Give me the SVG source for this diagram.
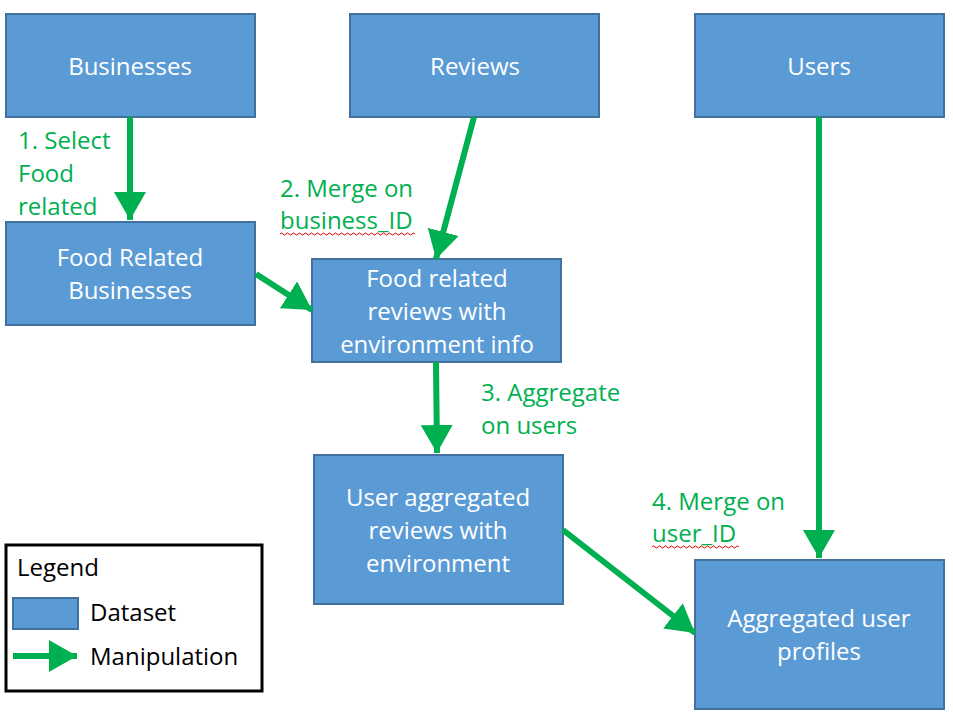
<svg xmlns="http://www.w3.org/2000/svg" width="953" height="719" viewBox="0 0 953 719">
<style>
.ds{fill:#5B9BD5;stroke:#41719C;stroke-width:2}
.dt{fill:#fff;font-family:"Open Sans","Liberation Sans",sans-serif;font-size:24px;text-anchor:middle}
.gl{fill:#00B050;font-family:"Open Sans","Liberation Sans",sans-serif;font-size:24px}
.bl{fill:#000;font-family:"Open Sans","Liberation Sans",sans-serif;font-size:24px}
.ar{stroke:#00B050;stroke-width:6;fill:none;marker-end:url(#ah)}
.sq{stroke:#E00000;stroke-width:1;fill:none}
</style>
<defs>
<marker id="ah" markerUnits="userSpaceOnUse" markerWidth="30" markerHeight="32" refX="28" refY="16" orient="auto" viewBox="0 0 30 32">
<path d="M0,0 L28,16 L0,32 Z" fill="#00B050"/>
</marker>
</defs>
<rect width="953" height="719" fill="#fff"/>
<g id="businesses"><rect class="ds" x="6" y="14" width="249" height="103"/><text class="dt" x="130" y="75">Businesses</text></g>
<g id="reviews"><rect class="ds" x="350" y="14" width="249" height="103"/><text class="dt" x="475" y="75">Reviews</text></g>
<g id="users"><rect class="ds" x="695" y="14" width="249" height="103"/><text class="dt" x="819" y="75">Users</text></g>
<g id="food-businesses"><rect class="ds" x="6" y="222" width="249" height="103"/><text class="dt" x="130" y="266">Food Related</text><text class="dt" x="130" y="299">Businesses</text></g>
<g id="food-reviews"><rect class="ds" x="312" y="259" width="249" height="103"/><text class="dt" x="437" y="287">Food related</text><text class="dt" x="437" y="320">reviews with</text><text class="dt" x="437" y="353">environment info</text></g>
<g id="user-aggregated"><rect class="ds" x="314" y="455" width="249" height="149"/><text class="dt" x="438" y="506">User aggregated</text><text class="dt" x="438" y="539">reviews with</text><text class="dt" x="438" y="572">environment</text></g>
<g id="aggregated-profiles"><rect class="ds" x="695" y="560" width="249" height="149"/><text class="dt" x="819" y="627">Aggregated user</text><text class="dt" x="819" y="660">profiles</text></g>
<g id="connectors">
<line class="ar" x1="130" y1="117" x2="130" y2="220"/>
<line class="ar" x1="474" y1="117" x2="436" y2="259"/>
<line class="ar" x1="256" y1="274" x2="312" y2="310"/>
<line class="ar" x1="436" y1="362" x2="437" y2="453"/>
<line class="ar" x1="563" y1="530" x2="695" y2="633"/>
<line class="ar" x1="819" y1="117" x2="819" y2="558"/>
</g>
<g id="labels">
<text class="gl" x="18" y="149">1. Select</text>
<text class="gl" x="18" y="182">Food</text>
<text class="gl" x="18" y="215">related</text>
<text class="gl" x="280" y="197">2. Merge on</text>
<text class="gl" x="280" y="229">business_ID</text>
<path class="sq" d="M280,234 q1.5,-2 3,0 t3,0 t3,0 t3,0 t3,0 t3,0 t3,0 t3,0 t3,0 t3,0 t3,0 t3,0 t3,0 t3,0 t3,0 t3,0 t3,0 t3,0 t3,0 t3,0 t3,0 t3,0 t3,0 t3,0 t3,0 t3,0 t3,0 t3,0 t3,0 t3,0 t3,0 t3,0 t3,0 t3,0 t3,0 t3,0 t3,0 t3,0 t3,0 t3,0 t3,0 t3,0 t3,0 t3,0 t3,0"/>
<text class="gl" x="481" y="401">3. Aggregate</text>
<text class="gl" x="481" y="434">on users</text>
<text class="gl" x="652" y="510">4. Merge on</text>
<text class="gl" x="652" y="542">user_ID</text>
<path class="sq" d="M652,547 q1.5,-2 3,0 t3,0 t3,0 t3,0 t3,0 t3,0 t3,0 t3,0 t3,0 t3,0 t3,0 t3,0 t3,0 t3,0 t3,0 t3,0 t3,0 t3,0 t3,0 t3,0 t3,0 t3,0 t3,0 t3,0 t3,0 t3,0 t3,0 t3,0 t3,0"/>
</g>
<g id="legend">
<rect x="6" y="545" width="256" height="146" fill="#fff" stroke="#000" stroke-width="3"/>
<text class="bl" x="17" y="576">Legend</text>
<rect class="ds" x="13" y="598" width="65" height="31"/>
<text class="bl" x="90" y="621">Dataset</text>
<line class="ar" x1="13" y1="656" x2="77" y2="656"/>
<text class="bl" x="90" y="665">Manipulation</text>
</g>
</svg>
